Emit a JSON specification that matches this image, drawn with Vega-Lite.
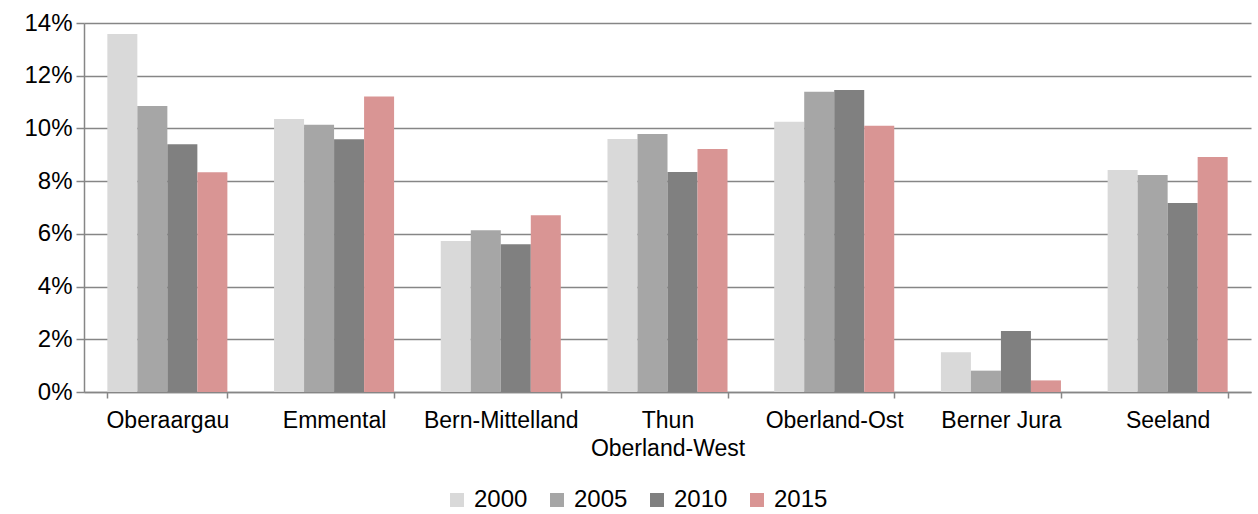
{
  "$schema": "https://vega.github.io/schema/vega-lite/v6.json",
  "width": 1167,
  "height": 369,
  "autosize": {"type": "none"},
  "padding": {"left": 84, "top": 23, "right": 7, "bottom": 122},
  "background": "white",
  "data": {
    "values": [
      {"region": "Oberaargau", "year": "2000", "value": 0.1358},
      {"region": "Oberaargau", "year": "2005", "value": 0.1085},
      {"region": "Oberaargau", "year": "2010", "value": 0.0940},
      {"region": "Oberaargau", "year": "2015", "value": 0.0834},
      {"region": "Emmental", "year": "2000", "value": 0.1036},
      {"region": "Emmental", "year": "2005", "value": 0.1014},
      {"region": "Emmental", "year": "2010", "value": 0.0959},
      {"region": "Emmental", "year": "2015", "value": 0.1121},
      {"region": "Bern-Mittelland", "year": "2000", "value": 0.0573},
      {"region": "Bern-Mittelland", "year": "2005", "value": 0.0614},
      {"region": "Bern-Mittelland", "year": "2010", "value": 0.0561},
      {"region": "Bern-Mittelland", "year": "2015", "value": 0.0671},
      {"region": "Thun|Oberland-West", "year": "2000", "value": 0.0960},
      {"region": "Thun|Oberland-West", "year": "2005", "value": 0.0979},
      {"region": "Thun|Oberland-West", "year": "2010", "value": 0.0835},
      {"region": "Thun|Oberland-West", "year": "2015", "value": 0.0922},
      {"region": "Oberland-Ost", "year": "2000", "value": 0.1025},
      {"region": "Oberland-Ost", "year": "2005", "value": 0.1139},
      {"region": "Oberland-Ost", "year": "2010", "value": 0.1146},
      {"region": "Oberland-Ost", "year": "2015", "value": 0.1010},
      {"region": "Berner Jura", "year": "2000", "value": 0.0151},
      {"region": "Berner Jura", "year": "2005", "value": 0.0081},
      {"region": "Berner Jura", "year": "2010", "value": 0.0231},
      {"region": "Berner Jura", "year": "2015", "value": 0.0044},
      {"region": "Seeland", "year": "2000", "value": 0.0842},
      {"region": "Seeland", "year": "2005", "value": 0.0823},
      {"region": "Seeland", "year": "2010", "value": 0.0717},
      {"region": "Seeland", "year": "2015", "value": 0.0892}
    ]
  },
  "mark": {"type": "bar"},
  "encoding": {
    "x": {
      "field": "region",
      "type": "nominal",
      "sort": null,
      "title": null,
      "scale": {"paddingInner": 0.28, "paddingOuter": 0.14},
      "axis": {
        "labelAngle": 0,
        "labelExpr": "datum.value ? split(datum.value, '|') : ''",
        "labelFont": "Liberation Sans",
        "labelFontSize": 23,
        "labelColor": "#000000",
        "labelPadding": 11,
        "labelLineHeight": 28,
        "tickBand": "extent",
        "tickSize": 6,
        "tickColor": "#868686",
        "domainColor": "#868686",
        "domainWidth": 1.5,
        "tickWidth": 1.5,
        "grid": false
      }
    },
    "xOffset": {"field": "year", "type": "nominal", "scale": {"paddingInner": 0, "paddingOuter": 0}},
    "y": {
      "field": "value",
      "type": "quantitative",
      "title": null,
      "scale": {"domain": [0, 0.14], "nice": false},
      "axis": {
        "values": [0, 0.02, 0.04, 0.06, 0.08, 0.1, 0.12, 0.14],
        "format": ".0%",
        "labelFont": "Liberation Sans",
        "labelFontSize": 24,
        "labelColor": "#000000",
        "labelPadding": 4,
        "tickSize": 8,
        "tickColor": "#868686",
        "tickWidth": 1.5,
        "domainColor": "#868686",
        "domainWidth": 1.5,
        "gridColor": "#868686",
        "gridWidth": 1.5
      }
    },
    "color": {
      "field": "year",
      "type": "nominal",
      "title": null,
      "scale": {
        "domain": ["2000", "2005", "2010", "2015"],
        "range": ["#D9D9D9", "#A6A6A6", "#808080", "#D99594"]
      },
      "legend": {
        "orient": "none",
        "legendX": 361,
        "legendY": 465,
        "direction": "horizontal",
        "symbolType": "square",
        "symbolSize": 196,
        "symbolStrokeWidth": 0,
        "labelFont": "Liberation Sans",
        "labelFontSize": 24,
        "labelColor": "#000000",
        "labelOffset": 5,
        "columnPadding": 17
      }
    }
  },
  "config": {
    "view": {"stroke": null},
    "axis": {"gridOpacity": 1}
  }
}
